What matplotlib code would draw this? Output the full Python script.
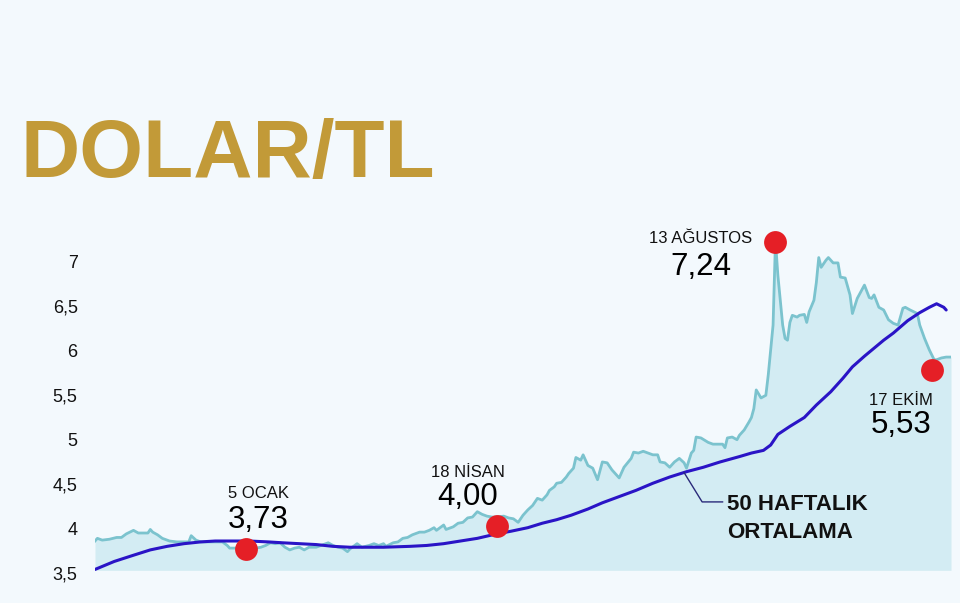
import matplotlib
matplotlib.use("Agg")
import matplotlib.pyplot as plt

# ---- data (days since 3 Nov 2017, USD/TRY) ----
gun = [0, 1, 3, 6, 9, 11, 13, 16, 18, 20, 22, 23, 24, 26, 28, 31, 34, 37, 39, 40,
       42, 44, 48, 53, 55, 56, 59, 63, 67, 69, 71, 73, 75, 77, 79, 81, 83, 85, 87, 89,
       92, 94, 96, 97, 99, 101, 103, 105, 106, 108, 109, 111, 114, 116, 118, 120, 121, 124, 126, 128,
       130, 132, 134, 135, 137, 139, 141, 142, 144, 145, 146, 149, 151, 153, 155, 157, 159, 161, 163, 165,
       167, 170, 172, 174, 176, 178, 180, 182, 183, 184, 186, 188, 189, 191, 192, 194, 196, 197, 199, 200,
       202, 203, 205, 207, 209, 211, 213, 215, 218, 220, 223, 224, 226, 228, 230, 232, 234, 235, 237, 239,
       241, 243, 245, 246, 248, 249, 250, 252, 255, 257, 259, 261, 262, 263, 265, 267, 268, 270, 272, 273,
       274, 275, 277, 279, 280, 282, 283, 284, 286, 287, 288, 289, 290, 292, 293, 295, 296, 297, 299, 300,
       301, 302, 304, 305, 307, 309, 310, 312, 314, 315, 317, 320, 322, 323, 324, 326, 328, 330, 332, 334,
       336, 337, 339, 342, 343, 345, 347, 349, 350, 352, 354, 356]
kur = [3.86, 3.89, 3.87, 3.88, 3.90, 3.90, 3.94, 3.98, 3.95, 3.95, 3.95, 3.99, 3.96, 3.93, 3.89, 3.86, 3.85, 3.85, 3.85, 3.92,
       3.87, 3.85, 3.85, 3.85, 3.81, 3.78, 3.78, 3.75, 3.78, 3.79, 3.81, 3.84, 3.83, 3.84, 3.79, 3.76, 3.78, 3.79, 3.76, 3.79,
       3.79, 3.81, 3.83, 3.84, 3.81, 3.79, 3.78, 3.74, 3.77, 3.81, 3.83, 3.79, 3.81, 3.83, 3.81, 3.83, 3.80, 3.84, 3.85, 3.89,
       3.90, 3.93, 3.95, 3.96, 3.96, 3.98, 4.01, 3.98, 4.02, 4.04, 3.99, 4.02, 4.06, 4.07, 4.12, 4.13, 4.19, 4.16, 4.14, 4.13,
       4.13, 4.14, 4.12, 4.11, 4.07, 4.15, 4.21, 4.26, 4.30, 4.34, 4.32, 4.38, 4.43, 4.47, 4.51, 4.52, 4.58, 4.62, 4.68, 4.80,
       4.77, 4.83, 4.71, 4.68, 4.55, 4.75, 4.74, 4.66, 4.57, 4.69, 4.79, 4.86, 4.85, 4.87, 4.85, 4.83, 4.83, 4.75, 4.74, 4.69,
       4.75, 4.79, 4.74, 4.68, 4.85, 4.88, 5.03, 5.02, 4.97, 4.95, 4.95, 4.95, 4.91, 5.02, 5.03, 5.00, 5.05, 5.11, 5.20, 5.25,
       5.35, 5.56, 5.47, 5.50, 5.73, 6.29, 7.24, 6.85, 6.29, 6.14, 6.12, 6.32, 6.40, 6.38, 6.40, 6.41, 6.32, 6.44, 6.57, 6.77,
       7.05, 6.94, 7.02, 7.05, 6.99, 6.99, 6.83, 6.82, 6.63, 6.42, 6.59, 6.74, 6.60, 6.59, 6.63, 6.49, 6.46, 6.35, 6.31, 6.29,
       6.48, 6.49, 6.46, 6.42, 6.29, 6.14, 6.01, 5.90, 5.90, 5.92, 5.93, 5.93]

ort_gun = [0, 8, 16, 23, 30, 37, 44, 50, 57, 64, 72, 78, 85, 92, 99, 106, 113, 120, 131, 138,
           145, 152, 159, 167, 173, 180, 186, 192, 198, 205, 211, 218, 225, 232, 239, 246, 253, 260, 268, 273,
           278, 281, 284, 289, 295, 300, 306, 311, 315, 320, 324, 328, 332, 338, 343, 347, 350, 353, 354]
ort = [3.54, 3.63, 3.70, 3.76, 3.80, 3.83, 3.85, 3.86, 3.86, 3.86, 3.85, 3.84, 3.83, 3.82, 3.80, 3.79, 3.79, 3.79, 3.80, 3.81,
       3.83, 3.86, 3.89, 3.94, 3.97, 4.01, 4.06, 4.10, 4.15, 4.22, 4.29, 4.36, 4.43, 4.51, 4.58, 4.64, 4.69, 4.75, 4.81, 4.85,
       4.88, 4.94, 5.06, 5.15, 5.25, 5.39, 5.54, 5.69, 5.82, 5.94, 6.03, 6.12, 6.20, 6.34, 6.43, 6.49, 6.53, 6.49, 6.46]

nokta_gun = [63, 167, 283, 348]
nokta_deger = [3.77, 4.03, 7.23, 5.78]
nokta_tarih = ["5 OCAK", "18 NİSAN", "13 AĞUSTOS", "17 EKİM"]
nokta_etiket = ["3,73", "4,00", "7,24", "5,53"]

yticks = [3.5, 4, 4.5, 5, 5.5, 6, 6.5, 7]
ytick_labels = ["3,5", "4", "4,5", "5", "5,5", "6", "6,5", "7"]

# ---- style ----
BG = "#F3F9FD"
FILL = "#D3ECF3"
PRICE = "#7BC3CE"
MA = "#2A14C6"
DOT = "#E51F26"
GOLD = "#C29A38"
FONT = ["Liberation Sans", "DejaVu Sans"]
plt.rcParams["font.family"] = FONT

W, H = 960, 603
fig = plt.figure(figsize=(W / 100, H / 100), dpi=100, facecolor=BG)

def fx(px):
    return px / W

def fy(py):
    return 1 - py / H

# axes: day 0 at x=95px, day 356 at 951px; 3.5 at 573px, 7 at 262px
ylo, yhi = 3.4, 7.5
py_per = (573 - 262) / 3.5
bottom_px = 573 + (3.5 - ylo) * py_per
top_px = 262 - (yhi - 7) * py_per
ax = fig.add_axes([fx(95), fy(bottom_px), fx(951) - fx(95), fy(top_px) - fy(bottom_px)])
ax.set_facecolor("none")
ax.set_xlim(0, 356)
ax.set_ylim(ylo, yhi)

ax.fill_between(gun, kur, 3.53, color=FILL, lw=0, zorder=1)
ax.plot(gun, kur, color=PRICE, lw=2.0, zorder=2, solid_joinstyle="round")
ax.plot(ort_gun, ort, color=MA, lw=2.2, zorder=3, solid_capstyle="round",
        solid_joinstyle="round")
ax.scatter(nokta_gun, nokta_deger, s=270, color=DOT, zorder=4, linewidths=0)

# connector for moving-average label
ax.plot([245, 252.5, 261], [4.63, 4.30, 4.30], color="#2A2A7A", lw=1.0, zorder=3)

for s in ax.spines.values():
    s.set_visible(False)
ax.set_xticks([])
ax.set_yticks(yticks)
ax.set_yticklabels(ytick_labels)
ax.tick_params(axis="y", length=0, pad=12.5, labelsize=13, labelcolor="#111111")

# title
fig.text(fx(20), fy(177), "DOLAR/TL", fontsize=59, fontweight="bold", color=GOLD,
         ha="left", va="baseline")

# annotations (date + value)
lab_pos = [(258, 498, 528), (468, 477, 505), (701, 243, 275), (901, 405, 433)]
for (cx, by1, by2), t, v in zip(lab_pos, nokta_tarih, nokta_etiket):
    fig.text(fx(cx), fy(by1), t, fontsize=12, ha="center", va="baseline", color="#111111")
    fig.text(fx(cx), fy(by2), v, fontsize=22.5, ha="center", va="baseline", color="#000000")

fig.text(fx(727), fy(510), "50 HAFTALIK", fontsize=16, fontweight="bold", ha="left",
         va="baseline", color="#111111")
fig.text(fx(727), fy(538), "ORTALAMA", fontsize=16, fontweight="bold", ha="left",
         va="baseline", color="#111111")

fig.savefig("out.png", dpi=100, facecolor=BG)
